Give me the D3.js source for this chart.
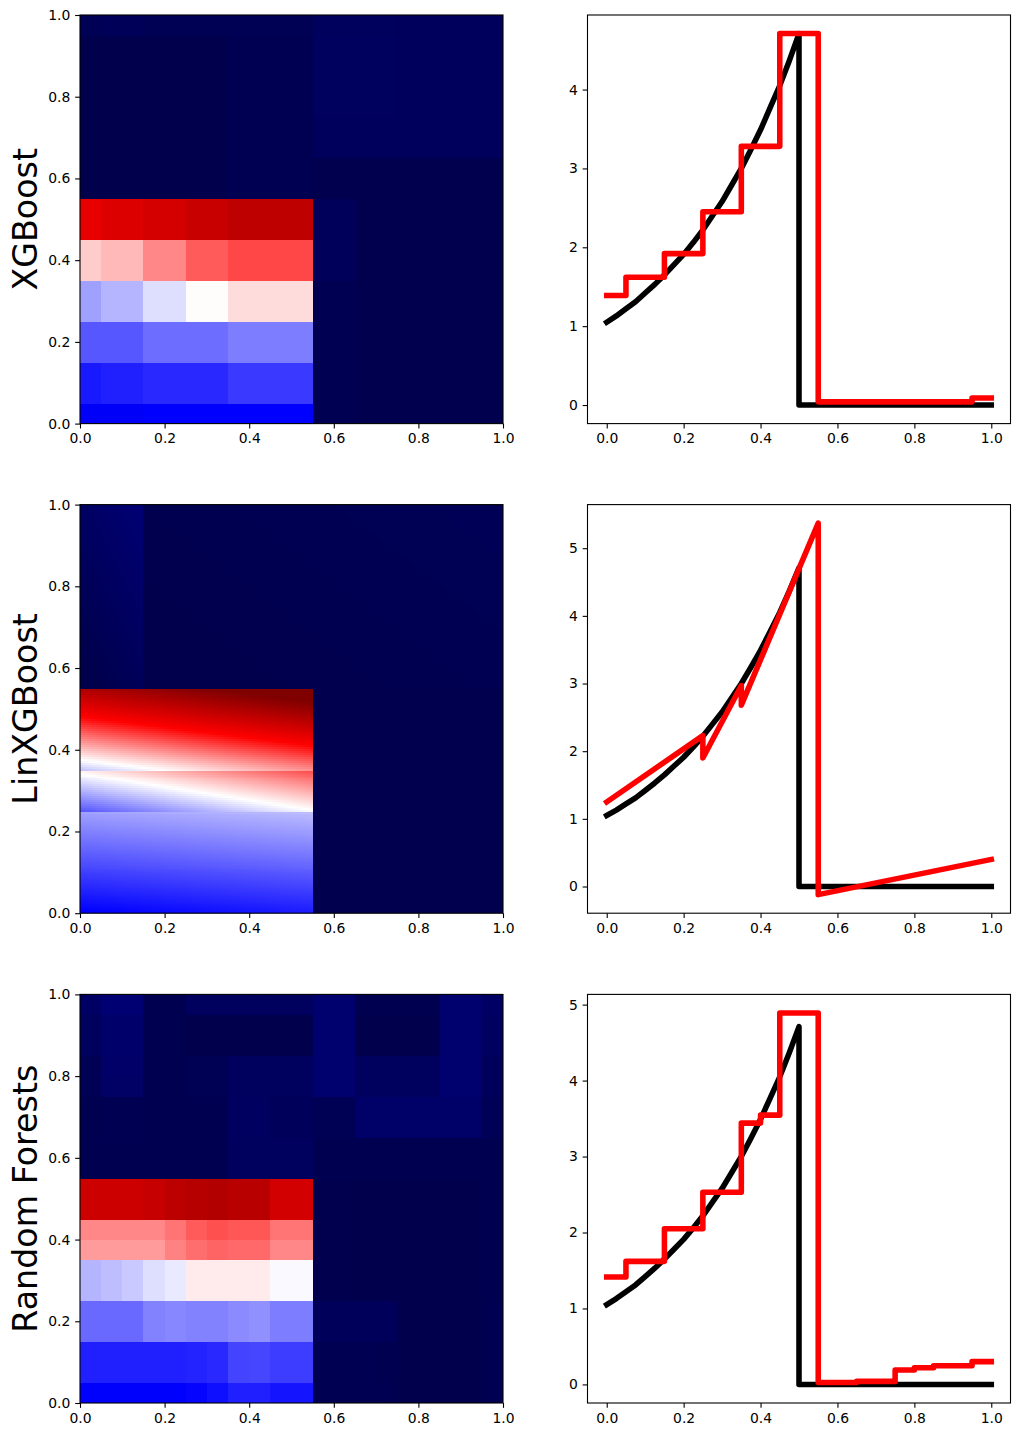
<!DOCTYPE html>
<html><head><meta charset="utf-8">
<script src="https://cdn.jsdelivr.net/npm/d3@7"></script>
<style>body{margin:0;background:#fff;} svg text{font-family:"DejaVu Sans",sans-serif;}</style>
</head><body>
<svg id="chart" width="1023" height="1435"></svg>
<script>
// ---------------- DATA ----------------
const modelNames = ["XGBoost", "LinXGBoost", "Random Forests"];

// true function (black)
const trueX = [0,0.025,0.05,0.075,0.1,0.125,0.15,0.175,0.2,0.225,0.25,0.275,0.3,0.325,0.35,0.375,0.4,0.425,0.45,0.475,0.5,0.5,1.0];
const trueY = [1.05,1.13,1.22,1.31,1.42,1.53,1.65,1.78,1.91,2.06,2.22,2.40,2.58,2.79,3.00,3.24,3.49,3.77,4.05,4.37,4.71,0,0];

// predictions (red)
const xgbPredX = [0,0.05,0.15,0.25,0.35,0.45,0.55,0.95,1.0];
const xgbPredY = [1.39,1.62,1.92,2.45,3.28,4.71,0.04,0.09,0.09];
const linPredX = [0,0.25,0.25,0.35,0.35,0.55,0.55,1.0];
const linPredY = [1.25,2.23,1.90,2.97,2.68,5.37,-0.12,0.40];
const rfPredX = [0,0.05,0.15,0.25,0.35,0.40,0.45,0.55,0.65,0.75,0.80,0.85,0.95,1.0];
const rfPredY = [1.415,1.62,2.05,2.53,3.44,3.545,4.89,0.026,0.04,0.19,0.22,0.245,0.30,0.30];

// tick labels
const heatTicks = [0,0.2,0.4,0.6,0.8,1.0];
const lineXTicks = [0,0.2,0.4,0.6,0.8,1.0];
const lineYTicks = [[0,1,2,3,4],[0,1,2,3,4,5],[0,1,2,3,4,5]];

// colour limits of each heat map
const colorLimits = [[0,5.75],[-0.2,5.5],[0,5.75]];

// XGBoost heat map cells (rows bottom -> top)
const xgbX1Edges = [0,0.05,0.15,0.25,0.35,0.55,0.65,0.75,1.0];
const xgbX2Edges = [0,0.05,0.15,0.25,0.35,0.45,0.55,0.65,0.75,0.95,1.0];
const xgbCells = [
  [1.39,1.39,1.44,1.44,1.44,0.05,0.02,0.02],
  [1.58,1.62,1.67,1.67,1.76,0.05,0.02,0.02],
  [1.93,1.93,2.05,2.05,2.14,0.05,0.02,0.02],
  [2.34,2.45,2.69,2.89,3.07,0.05,0.02,0.02],
  [3.16,3.27,3.55,3.80,3.91,0.11,0.02,0.02],
  [4.57,4.71,4.80,4.93,5.05,0.11,0.02,0.02],
  [0.00,0.00,0.00,0.00,0.05,0.02,0.02,0.02],
  [0.00,0.00,0.00,0.00,0.05,0.12,0.12,0.12],
  [0.00,0.00,0.00,0.00,0.05,0.14,0.14,0.12],
  [0.065,0.09,0.065,0.065,0.065,0.13,0.13,0.12]
];

// Random Forests heat map cells (rows bottom -> top)
const rfX1Edges = [0,0.05,0.1,0.15,0.2,0.25,0.3,0.35,0.4,0.45,0.55,0.65,0.7,0.75,0.85,0.95,1.0];
const rfX2Edges = [0,0.05,0.15,0.25,0.35,0.4,0.45,0.55,0.65,0.75,0.8,0.85,0.95,1.0];
const rfCells = [
  [1.42,1.42,1.42,1.42,1.42,1.465,1.52,1.61,1.61,1.55, 0.049,0.049,0.049,0,0,0.05],
  [1.62,1.62,1.62,1.62,1.62,1.635,1.67,1.82,1.83,1.78, 0.049,0.049,0.024,0,0,0.05],
  [2.03,2.03,2.03,2.17,2.20,2.17,2.17,2.22,2.25,2.14, 0.105,0.105,0.105,0,0,0.05],
  [2.45,2.51,2.57,2.69,2.75,2.99,2.99,2.99,2.99,2.84, 0.01,0,0,0,0,0.03],
  [3.44,3.44,3.44,3.44,3.58,3.69,3.75,3.72,3.72,3.55, 0.01,0,0,0,0,0.03],
  [3.55,3.55,3.55,3.55,3.66,3.80,3.86,3.83,3.83,3.66, 0.01,0,0,0,0,0.03],
  [4.88,4.88,4.88,4.96,5.07,5.14,5.18,5.12,5.12,4.82, 0.01,0,0,0,0,0.03],
  [0.024,0.026,0.026,0.024,0.024,0.024,0.024,0.146,0.146,0.146, 0.024,0.024,0.024,0.024,0.024,0.024],
  [0.024,0.04,0.04,0.024,0.024,0.024,0.024,0.162,0.162,0.105, 0.065,0.227,0.227,0.227,0.227,0.081],
  [0.065,0.19,0.19,0.024,0.024,0.065,0.065,0.146,0.146,0.146, 0.267,0.146,0.146,0.146,0.267,0.105],
  [0.065,0.22,0.22,0.024,0.024,0.065,0.065,0.146,0.146,0.146, 0.267,0.146,0.146,0.146,0.267,0.105],
  [0.13,0.245,0.245,0.024,0.024,0,0,0,0,0, 0.267,0,0,0,0.267,0.162],
  [0.186,0.30,0.30,0.024,0.024,0.146,0.146,0.146,0.146,0.146, 0.267,0.024,0.024,0.024,0.267,0.186]
];

// LinXGBoost: linear leaves, [x1lo, x1hi, x2lo, x2hi] and plane [a, b, c] (v = a + b*x1 + c*x2)
const linRegionBounds = [
  [0,0.55,0,0.25],
  [0,0.55,0.25,0.35],
  [0,0.55,0.35,0.55],
  [0,0.15,0.55,1.0],
  [0.15,1.0,0.55,1.0],
  [0.55,1.0,0,0.55]
];
const linRegionPlanes = [
  [1.2,0.3,3.7],
  [-0.941,1.68,10.5],
  [-2.42,1.75,13.45],
  [-0.52,1.0,0.49],
  [-0.28,0.07,0.09],
  [-0.185,0,0]
];

// ---------------- LAYOUT / STYLE ----------------
const AX_W = 423, AX_H = 408.6;
const LEFT_X = 80, RIGHT_X = 587.5;
const ROW_TOPS = [15, 504.6, 994.4];
const LW = 5.56;
const TICK = 4.86;
const FONT_TICK = "13.9px";
const FONT_LABEL = "33.3px";
const seismicStops = ["#00004d","#0000ff","#ffffff","#ff0000","#800000"];

const svg = d3.select("#chart");

function seismic(lim) {
  const s = lim[1] - lim[0];
  return d3.scaleLinear()
    .domain([0,0.25,0.5,0.75,1].map(t => lim[0] + t*s))
    .range(seismicStops).clamp(true);
}

function styleAxis(g) {
  g.attr("font-family", null).attr("font-size", null);
  g.select(".domain").remove();
  g.selectAll(".tick line").attr("stroke", "#000").attr("stroke-width", 1.1);
  g.selectAll(".tick text").attr("fill", "#000").attr("font-size", FONT_TICK)
    .attr("font-family", "DejaVu Sans, sans-serif");
}

function drawFrame(g, x0, y0) {
  g.append("rect").attr("x", x0).attr("y", y0).attr("width", AX_W).attr("height", AX_H)
    .attr("fill", "none").attr("stroke", "#000").attr("stroke-width", 1.1);
}

function drawAxes(g, xs, ys, x0, y0, xt, yt, xfmt, yfmt) {
  const gx = g.append("g").attr("transform", `translate(0,${y0 + AX_H})`)
    .call(d3.axisBottom(xs).tickValues(xt).tickFormat(xfmt).tickSize(TICK).tickPadding(TICK));
  styleAxis(gx);
  const gy = g.append("g").attr("transform", `translate(${x0},0)`)
    .call(d3.axisLeft(ys).tickValues(yt).tickFormat(yfmt).tickSize(TICK).tickPadding(TICK));
  styleAxis(gy);
}

// ---------------- HEAT MAPS ----------------
function drawTreeHeat(g, xs, ys, x1e, x2e, cells, color) {
  const data = [];
  cells.forEach((row, r) => row.forEach((v, c) => data.push({r, c, v})));
  g.append("g").selectAll("rect").data(data).join("rect")
    .attr("x", d => xs(x1e[d.c]))
    .attr("y", d => ys(x2e[d.r + 1]))
    .attr("width", d => xs(x1e[d.c + 1]) - xs(x1e[d.c]) + 0.4)
    .attr("height", d => ys(x2e[d.r]) - ys(x2e[d.r + 1]) + 0.4)
    .attr("fill", d => color(d.v))
    .attr("shape-rendering", "crispEdges");
}

function drawLinHeat(g, xs, ys, color) {
  const data = [];
  linRegionBounds.forEach((bd, k) => {
    const [a, b, c] = linRegionPlanes[k];
    const flat = (b === 0 && c === 0);
    const cellPx = flat ? 1e6 : (Math.abs(c) > 1 ? 2 : 4);
    const nx = Math.max(1, Math.ceil((xs(bd[1]) - xs(bd[0])) / cellPx));
    const ny = Math.max(1, Math.ceil((ys(bd[2]) - ys(bd[3])) / cellPx));
    const dx = (bd[1] - bd[0]) / nx, dy = (bd[3] - bd[2]) / ny;
    for (let i = 0; i < nx; i++) for (let j = 0; j < ny; j++) {
      const x1a = bd[0] + i*dx, x2a = bd[2] + j*dy;
      const v = a + b*(x1a + dx/2) + c*(x2a + dy/2);
      data.push({x1a, x1b: x1a + dx, x2a, x2b: x2a + dy, v});
    }
  });
  g.append("g").selectAll("rect").data(data).join("rect")
    .attr("x", d => xs(d.x1a))
    .attr("y", d => ys(d.x2b))
    .attr("width", d => xs(d.x1b) - xs(d.x1a) + 0.5)
    .attr("height", d => ys(d.x2a) - ys(d.x2b) + 0.5)
    .attr("fill", d => color(d.v))
    .attr("shape-rendering", "crispEdges");
}

const preds = [
  {x: xgbPredX, y: xgbPredY, step: true},
  {x: linPredX, y: linPredY, step: false},
  {x: rfPredX, y: rfPredY, step: true}
];

modelNames.forEach((name, m) => {
  const y0 = ROW_TOPS[m];
  const g = svg.append("g");

  // ---- left: heat map ----
  const xh = d3.scaleLinear().domain([0, 1]).range([LEFT_X, LEFT_X + AX_W]);
  const yh = d3.scaleLinear().domain([0, 1]).range([y0 + AX_H, y0]);
  const color = seismic(colorLimits[m]);
  const clipId = "clipH" + m;
  svg.append("clipPath").attr("id", clipId).append("rect")
    .attr("x", LEFT_X).attr("y", y0).attr("width", AX_W).attr("height", AX_H);
  const hg = g.append("g").attr("clip-path", `url(#${clipId})`);
  if (m === 0) drawTreeHeat(hg, xh, yh, xgbX1Edges, xgbX2Edges, xgbCells, color);
  if (m === 1) drawLinHeat(hg, xh, yh, color);
  if (m === 2) drawTreeHeat(hg, xh, yh, rfX1Edges, rfX2Edges, rfCells, color);
  drawFrame(g, LEFT_X, y0);
  drawAxes(g, xh, yh, LEFT_X, y0, heatTicks, heatTicks, d3.format(".1f"), d3.format(".1f"));

  g.append("text")
    .attr("transform", `translate(36.5,${y0 + AX_H/2}) rotate(-90)`)
    .attr("text-anchor", "middle")
    .attr("font-size", FONT_LABEL)
    .attr("fill", "#000")
    .text(name);

  // ---- right: line plot ----
  const p = preds[m];
  const allY = trueY.concat(p.y);
  const ext = d3.extent(allY);
  const pad = (ext[1] - ext[0]) * 0.05;
  const xr = d3.scaleLinear().domain([-0.05, 1.05]).range([RIGHT_X, RIGHT_X + AX_W]);
  const yr = d3.scaleLinear().domain([ext[0] - pad, ext[1] + pad]).range([y0 + AX_H, y0]);

  const trueLine = d3.line().x(d => xr(d[0])).y(d => yr(d[1]));
  g.append("path")
    .datum(trueX.map((x, i) => [x, trueY[i]]))
    .attr("d", trueLine)
    .attr("fill", "none").attr("stroke", "#000").attr("stroke-width", LW)
    .attr("stroke-linejoin", "round").attr("stroke-linecap", "square");

  const predLine = d3.line().x(d => xr(d[0])).y(d => yr(d[1]))
    .curve(p.step ? d3.curveStepAfter : d3.curveLinear);
  g.append("path")
    .datum(p.x.map((x, i) => [x, p.y[i]]))
    .attr("d", predLine)
    .attr("fill", "none").attr("stroke", "#ff0000").attr("stroke-width", LW)
    .attr("stroke-linejoin", "round").attr("stroke-linecap", "square");

  drawFrame(g, RIGHT_X, y0);
  drawAxes(g, xr, yr, RIGHT_X, y0, lineXTicks, lineYTicks[m], d3.format(".1f"), d3.format("d"));
});
</script>
</body></html>
